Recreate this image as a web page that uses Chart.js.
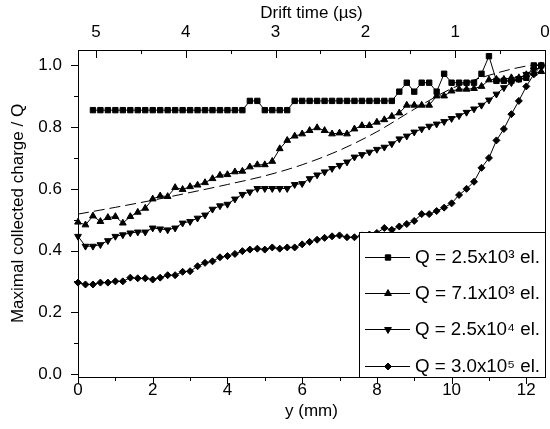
<!DOCTYPE html>
<html><head><meta charset="utf-8">
<script src="https://cdn.jsdelivr.net/npm/chart.js@4.4.0/dist/chart.umd.min.js"></script>
<style>html,body{margin:0;padding:0;background:#fff}#wrap{width:550px;height:429px;position:relative}canvas{display:block}</style>
</head><body><div id="wrap"><canvas id="c" width="550" height="429"></canvas></div>
<script>
// ---------- data ----------
const xAll = [0,0.2,0.4,0.6,0.8,1,1.2,1.4,1.6,1.8,2,2.2,2.4,2.6,2.8,3,3.2,3.4,3.6,3.8,4,4.2,4.4,4.6,4.8,5,5.2,5.4,5.6,5.8,6,6.2,6.4,6.6,6.8,7,7.2,7.4,7.6,7.8,8,8.2,8.4,8.6,8.8,9,9.2,9.4,9.6,9.8,10,10.2,10.4,10.6,10.8,11,11.2,11.4,11.6,11.8,12,12.2,12.4];
const xSquares = [0.4,0.6,0.8,1,1.2,1.4,1.6,1.8,2,2.2,2.4,2.6,2.8,3,3.2,3.4,3.6,3.8,4,4.2,4.4,4.6,4.8,5,5.2,5.4,5.6,5.8,6,6.2,6.4,6.6,6.8,7,7.2,7.4,7.6,7.8,8,8.2,8.4,8.6,8.8,9,9.2,9.4,9.6,9.8,10,10.2,10.4,10.6,10.8,11,11.2,11.4,11.6,11.8,12,12.2,12.4];
const q25e3 = [0.855,0.855,0.855,0.855,0.855,0.855,0.855,0.855,0.855,0.855,0.855,0.855,0.855,0.855,0.855,0.855,0.855,0.855,0.855,0.855,0.855,
  0.885,0.885,0.855,0.855,0.855,0.855,
  0.885,0.885,0.885,0.885,0.885,0.885,0.885,0.885,0.885,0.885,0.885,0.885,0.885,0.885,
  0.915,0.944,0.915,0.944,0.944,0.915,0.973,0.944,0.944,0.944,0.944,0.973,1.03,0.95,0.95,0.95,0.955,0.96,1.0,1.0];
const q71e3 = [0.492,0.483,0.512,0.494,0.507,0.510,0.489,0.510,0.524,0.537,
  0.567,0.577,0.575,0.604,0.598,0.607,0.612,0.620,0.633,0.644,
  0.646,0.655,0.657,0.671,0.678,0.678,0.689,0.730,0.757,0.771,
  0.778,0.789,0.798,0.789,0.778,0.781,0.778,0.794,0.805,0.805,
  0.816,0.824,0.835,0.846,0.871,0.871,0.871,0.871,0.901,0.901,
  0.917,0.923,0.923,0.925,0.932,0.953,0.955,0.955,0.960,0.960,
  0.970,0.975,0.980];
const q25e4 = [0.446,0.414,0.414,0.419,0.432,0.446,0.451,0.457,0.460,0.460,
  0.473,0.470,0.467,0.473,0.489,0.494,0.505,0.515,0.534,0.545,
  0.550,0.567,0.582,0.590,0.601,0.601,0.601,0.601,0.601,0.614,
  0.617,0.633,0.645,0.655,0.666,0.676,0.687,0.703,0.711,0.719,
  0.728,0.735,0.746,0.762,0.771,0.784,0.794,0.803,0.810,0.818,
  0.828,0.837,0.848,0.859,0.871,0.888,0.907,0.928,0.944,0.957,
  0.971,0.985,0.995];
const q30e5 = [0.296,0.290,0.290,0.296,0.296,0.300,0.300,0.312,0.310,0.310,
  0.306,0.312,0.320,0.320,0.331,0.333,0.349,0.360,0.365,0.378,
  0.382,0.389,0.398,0.403,0.406,0.403,0.410,0.406,0.410,0.410,
  0.420,0.428,0.435,0.441,0.446,0.449,0.443,0.443,0.449,0.452,
  0.457,0.473,0.467,0.478,0.486,0.496,0.518,0.518,0.528,0.539,
  0.553,0.580,0.600,0.623,0.668,0.700,0.757,0.794,0.842,0.885,
  0.932,0.971,1.000];
const xCurve = [0,1,2,3,4,5,6,7,8,9,10,11,12,12.4];
const yCurve = [0.518,0.540,0.563,0.588,0.614,0.642,0.678,0.725,0.785,0.858,0.925,0.968,0.998,1.003];

const seriesLabels = ['Q = 2.5x10\u00B3 el.','Q = 7.1x10\u00B3 el.','Q = 2.5x10\u2074 el.','Q = 3.0x10\u2075 el.'];
const xMajor = [0,2,4,6,8,10,12];
const xMinor = [1,3,5,7,9,11];
const yMajor = [0,0.2,0.4,0.6,0.8,1.0];
const yMinor = [0.1,0.3,0.5,0.7,0.9];
const tMajor = [0,1,2,3,4,5];
const tMinor = [0.5,1.5,2.5,3.5,4.5];

// ---------- chart ----------
const FONT = "'Liberation Sans', Arial, Helvetica, sans-serif";
const pts = (xs, ys) => xs.map((x, i) => ({x: x, y: ys[i]}));
const mk = (label, xs, ys, style, r, rot) => ({
  label: label, data: pts(xs, ys), borderColor: '#000', backgroundColor: '#000',
  borderWidth: 1, pointStyle: style, pointRadius: r, pointRotation: rot || 0,
  pointBorderWidth: 1, pointBorderColor: '#000', pointBackgroundColor: '#000',
  tension: 0, clip: false
});
const datasets = [
  mk(seriesLabels[0], xSquares, q25e3, 'rect', 3.8),
  mk(seriesLabels[1], xAll, q71e3, 'triangle', 3.9),
  mk(seriesLabels[2], xAll, q25e4, 'triangle', 3.9, 180),
  mk(seriesLabels[3], xAll, q30e5, 'rectRot', 3.5),
  {label: 'fit', data: pts(xCurve, yCurve), borderColor: '#000', borderWidth: 1,
   borderDash: [11, 5], pointRadius: 0, cubicInterpolationMode: 'monotone', fill: false}
];

function drawMarker(ctx, style, r, rot, x, y) {
  if (Chart.helpers && Chart.helpers.drawPoint) {
    Chart.helpers.drawPoint(ctx, {pointStyle: style, radius: r, rotation: rot || 0, borderWidth: 1}, x, y);
  }
}

const framePlugin = {
  id: 'frame',
  afterDraw(chart) {
    const {ctx, chartArea: a, scales} = chart;
    ctx.save();
    ctx.strokeStyle = '#000'; ctx.lineWidth = 1;
    ctx.strokeRect(Math.round(a.left) + 0.5, Math.round(a.top) + 0.5, Math.round(a.right - a.left), Math.round(a.bottom - a.top));
    ctx.beginPath();
    const hx = (scale, vals, y0, len) => vals.forEach(v => {
      const p = Math.round(scale.getPixelForValue(v)) + 0.5;
      ctx.moveTo(p, y0); ctx.lineTo(p, y0 + len);
    });
    const vy = (scale, vals, x0, len) => vals.forEach(v => {
      const p = Math.round(scale.getPixelForValue(v)) + 0.5;
      ctx.moveTo(x0, p); ctx.lineTo(x0 - len, p);
    });
    const b = Math.round(a.bottom), t = Math.round(a.top), l = Math.round(a.left);
    hx(scales.x, xMajor, b, 7);
    hx(scales.x, xMinor, b, 4);
    hx(scales.x2, tMajor, t, 8);
    hx(scales.x2, tMinor, t, 4);
    vy(scales.y, yMajor, l, 7);
    vy(scales.y, yMinor, l, 4);
    ctx.stroke();
    ctx.restore();
  }
};

const legendPlugin = {
  id: 'boxLegend',
  afterDraw(chart) {
    const {ctx, chartArea: a} = chart;
    const left = 359, top = 232, right = Math.round(a.right), bottom = Math.round(a.bottom);
    const rowsY = [257, 293, 329, 366];
    const textX = 415, textW = 125;
    ctx.save();
    ctx.fillStyle = '#fff';
    ctx.fillRect(left, top, right - left, bottom - top);
    ctx.strokeStyle = '#000'; ctx.lineWidth = 1;
    ctx.strokeRect(left + 0.5, top + 0.5, right - left, bottom - top);
    for (let i = 0; i < 4; i++) {
      const ds = chart.data.datasets[i];
      const y = rowsY[i];
      ctx.beginPath(); ctx.moveTo(365, y + 0.5); ctx.lineTo(410, y + 0.5); ctx.stroke();
      ctx.fillStyle = '#000';
      drawMarker(ctx, ds.pointStyle, ds.pointRadius, ds.pointRotation, 388, y + 0.5);
      ctx.fillStyle = '#000';
      ctx.font = '18px ' + FONT;
      ctx.textBaseline = 'middle'; ctx.textAlign = 'left';
      const w = ctx.measureText(ds.label).width;
      const sx = w > 0 ? textW / w : 1;
      ctx.save();
      ctx.translate(textX, y + 1);
      ctx.scale(sx, 1);
      ctx.fillText(ds.label, 0, 0);
      ctx.restore();
    }
    ctx.restore();
  }
};

const tickFont = {family: FONT, size: 17};
const titleFont = {family: FONT, size: 17, lineHeight: 1};
const noGrid = {display: false, drawTicks: false};

new Chart(document.getElementById('c'), {
  type: 'line',
  data: {datasets: datasets},
  options: {
    responsive: false, animation: false, devicePixelRatio: 1,
    layout: {padding: {left: 0, right: 4, top: 0, bottom: 0}},
    plugins: {legend: {display: false}, tooltip: {enabled: false}},
    elements: {line: {borderJoinStyle: 'miter'}},
    scales: {
      x: {
        type: 'linear', position: 'bottom', min: 0, max: 12.5,
        afterBuildTicks: s => { s.ticks = xMajor.map(v => ({value: v})); },
        afterFit: s => { s.height = 52; s.paddingLeft = 0; s.paddingRight = 0; },
        ticks: {font: tickFont, color: '#000', padding: 3, maxRotation: 0, autoSkip: false, callback: v => String(v)},
        grid: noGrid, border: {display: false},
        title: {display: true, text: 'y (mm)', font: titleFont, color: '#000', padding: {top: 0, bottom: 9}}
      },
      x2: {
        type: 'linear', position: 'top', min: 0, max: 5.2, reverse: true,
        afterBuildTicks: s => { s.ticks = tMajor.map(v => ({value: v})); },
        afterFit: s => { s.height = 50; s.paddingLeft = 0; s.paddingRight = 0; },
        ticks: {font: tickFont, color: '#000', padding: 7, maxRotation: 0, autoSkip: false, callback: v => String(v)},
        grid: noGrid, border: {display: false},
        title: {display: true, text: 'Drift time (\u00B5s)', font: titleFont, color: '#000', padding: {top: 5, bottom: 0}}
      },
      y: {
        type: 'linear', position: 'left', min: -0.01, max: 1.05,
        afterBuildTicks: s => { s.ticks = yMajor.map(v => ({value: v})); },
        afterFit: s => { s.width = 78; },
        ticks: {font: tickFont, color: '#000', padding: 16, autoSkip: false, callback: v => v.toFixed(1)},
        grid: noGrid, border: {display: false},
        title: {display: true, text: 'Maximal collected charge / Q', font: titleFont, color: '#000', padding: {top: 10, bottom: 0}}
      }
    }
  },
  plugins: [framePlugin, legendPlugin]
});
</script>
</body></html>
